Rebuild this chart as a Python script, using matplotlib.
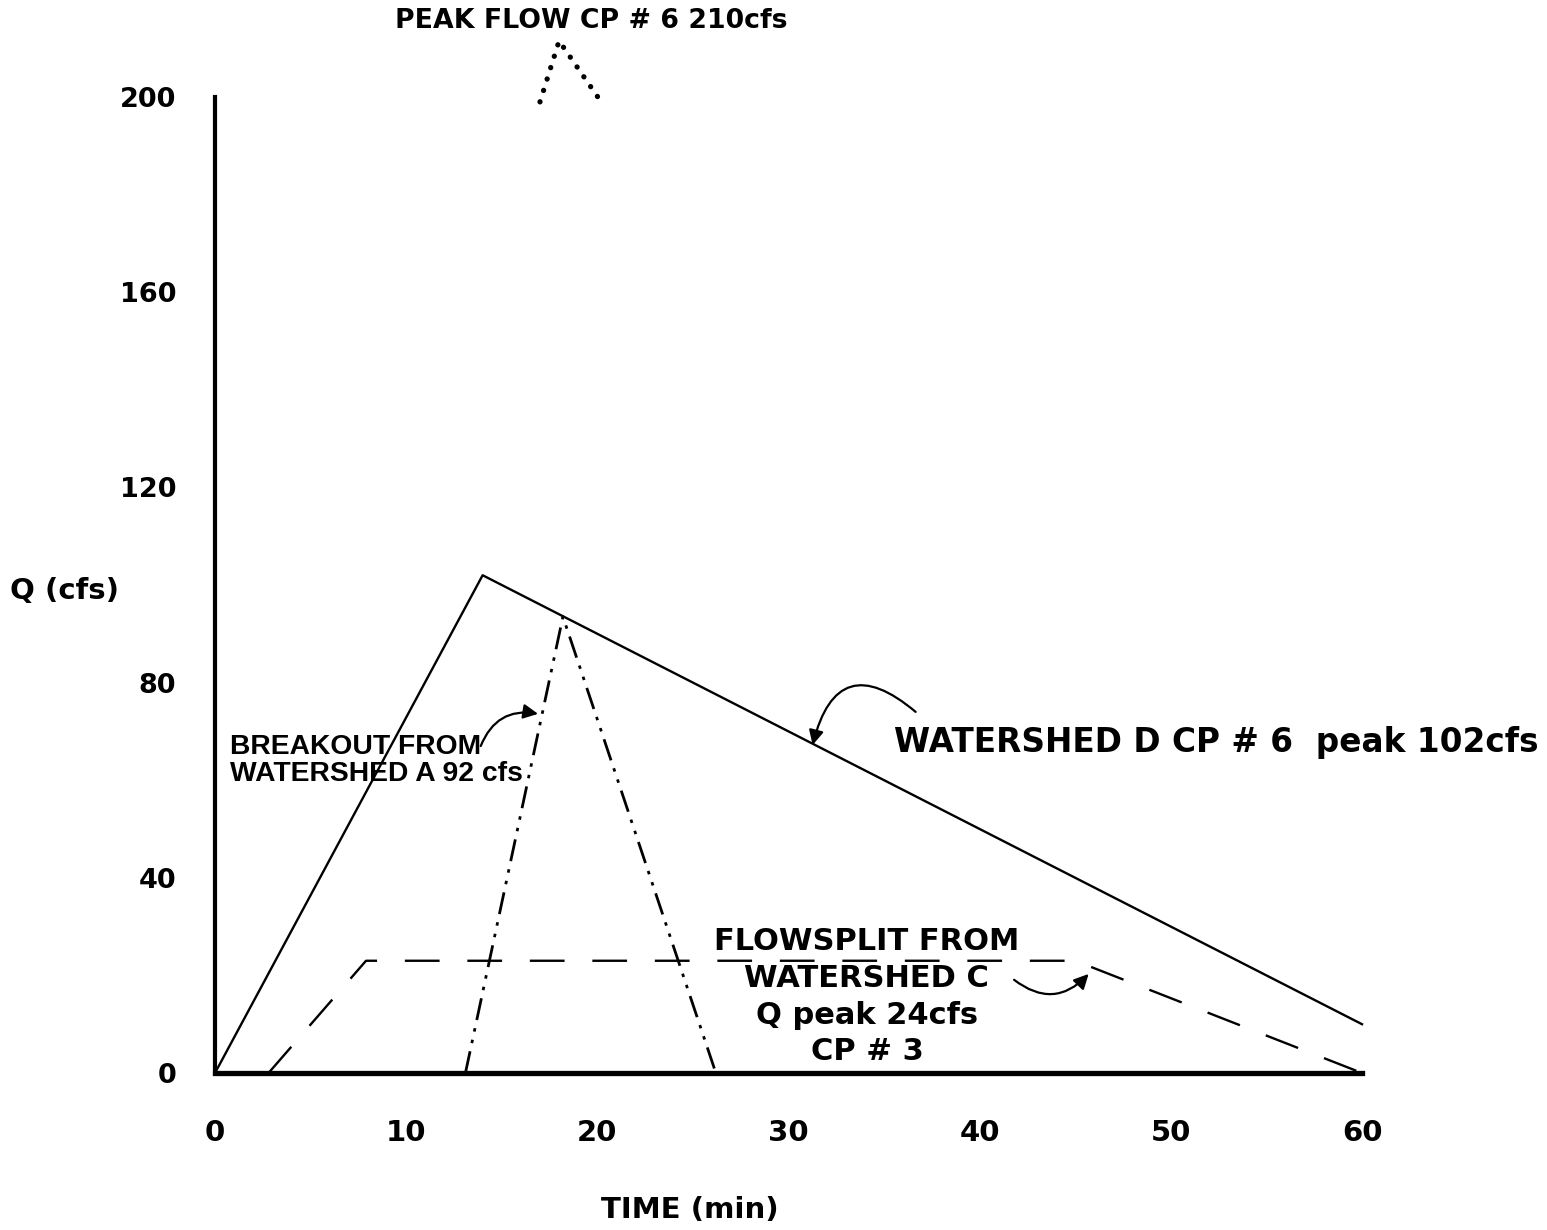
import matplotlib
matplotlib.use("Agg")
import matplotlib.pyplot as plt

# Hydrograph data (time in min, Q in cfs).
watershed_d_t = [0, 14, 60]
watershed_d_q = [0, 102, 10]
flowsplit_t = [2.8, 7.9, 45, 60]
flowsplit_q = [0, 23, 23, 0]
breakout_t = [13.1, 18.2, 26.2]
breakout_q = [0, 93.5, 0]
peak_t = [17.0, 18.0, 20.2]
peak_q = [199, 211.5, 199]

xticks = [0, 10, 20, 30, 40, 50, 60]
yticks = [0, 40, 80, 120, 160, 200]

W, H = 1547, 1230
plt.rcParams['lines.scale_dashes'] = False
plt.rcParams['font.family'] = ['DejaVu Sans']
plt.rcParams['font.weight'] = 'bold'

fig = plt.figure(figsize=(W / 100, H / 100), dpi=100)
ax = fig.add_axes([215 / W, 1 - 1073 / H, (1362 - 215) / W, (1073 - 97) / H])
ax.set_xlim(0, 60)
ax.set_ylim(0, 200)

# spines: only the left and bottom, drawn heavy
for s in ('top', 'right'):
    ax.spines[s].set_visible(False)
ax.spines['left'].set_linewidth(3)
ax.spines['bottom'].set_linewidth(3.8)

ax.set_xticks(xticks)
ax.set_yticks(yticks)
ax.tick_params(axis='both', length=0)
ax.tick_params(axis='y', pad=28, labelsize=19.5)
ax.tick_params(axis='x', pad=33, labelsize=21)
for lab in ax.get_xticklabels() + ax.get_yticklabels():
    lab.set_fontweight('bold')

# curves
ax.plot(watershed_d_t, watershed_d_q, color='black', lw=1.7, clip_on=False)
ax.plot(flowsplit_t, flowsplit_q, color='black', lw=1.7, dashes=(25, 20), clip_on=False)
ax.plot(breakout_t, breakout_q, color='black', lw=2.0,
        dashes=(16, 6, 2.5, 6, 2.5, 6), clip_on=False)
ax.plot(peak_t, peak_q, color='black', lw=3.8, dashes=(0.1, 8.5),
        dash_capstyle='round', clip_on=False)

# labels
ax.text(19.7, 215.5, 'PEAK FLOW CP # 6 210cfs',
        fontsize=19.3, fontweight='bold', ha='center', va='center', clip_on=False)

arrow = dict(arrowstyle='-|>', color='black', lw=1.6, mutation_scale=22,
             shrinkA=0, shrinkB=0)

ax.text(0.8, 64.1, 'BREAKOUT FROM\nWATERSHED A 92 cfs', family='Liberation Sans',
        fontsize=20.3, fontweight='bold', ha='left', va='center', linespacing=1.05)
ax.annotate('', xy=(16.9, 73.6), xytext=(13.9, 67.0),
            arrowprops=dict(arrow, connectionstyle='arc3,rad=-0.4'))

ax.text(35.5, 67.8, 'WATERSHED D CP # 6  peak 102cfs', fontsize=23.6,
        fontweight='bold', ha='left', va='center', clip_on=False)
ax.annotate('', xy=(31.26, 67.2), xytext=(36.65, 74.0),
            arrowprops=dict(arrow, connectionstyle='arc3,rad=0.8'))

ax.text(34.1, 15.6, 'FLOWSPLIT FROM\nWATERSHED C\nQ peak 24cfs\nCP # 3',
        fontsize=22, fontweight='bold', ha='center', va='center',
        linespacing=1.33)
ax.annotate('', xy=(45.7, 20.3), xytext=(41.8, 19.1),
            arrowprops=dict(arrow, connectionstyle='arc3,rad=0.45'))

fig.text(10 / W, 1 - 591 / H, 'Q (cfs)', fontsize=21, fontweight='bold',
         ha='left', va='center')
fig.text(690 / W, 1 - 1210 / H, 'TIME (min)', fontsize=21, fontweight='bold',
         ha='center', va='center')

fig.savefig('out.png', dpi=100)
